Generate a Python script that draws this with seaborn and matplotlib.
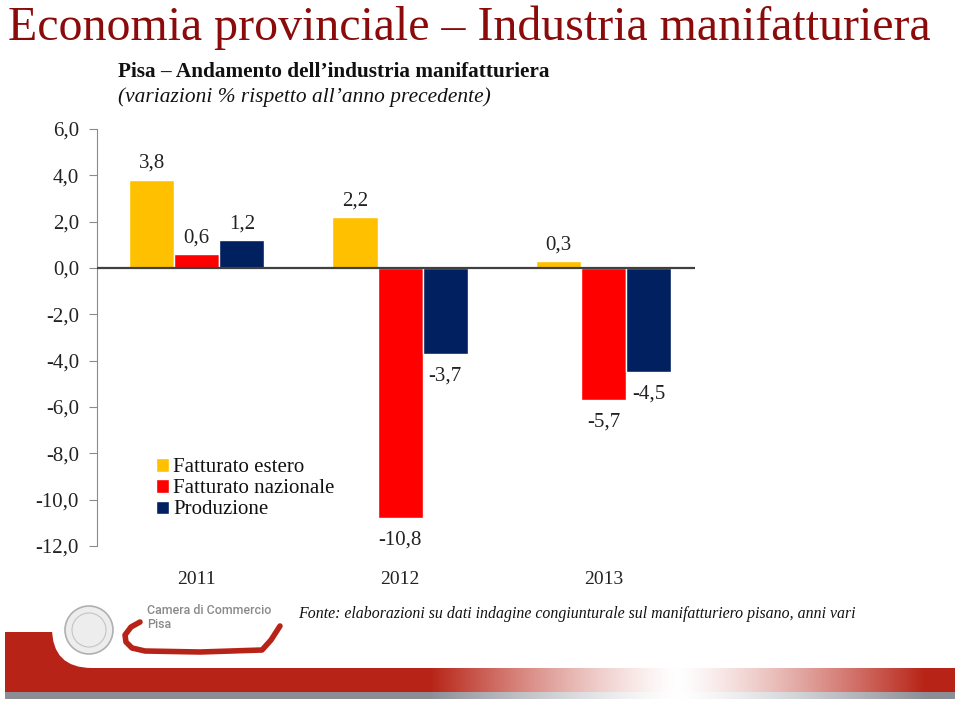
import matplotlib
matplotlib.use("Agg")
import matplotlib.pyplot as plt
import numpy as np
import pandas as pd
import seaborn as sns
from matplotlib.patches import Rectangle, FancyBboxPatch, Circle

# data
years = ["2011", "2012", "2013"]
series = ["Fatturato estero", "Fatturato nazionale", "Produzione"]
fatturato_estero = [3.8, 2.2, 0.3]
fatturato_nazionale = [0.6, -10.8, -5.7]
produzione = [1.2, -3.7, -4.5]
colors = ["#FFC000", "#FF0000", "#002060"]
yticks = [6, 4, 2, 0, -2, -4, -6, -8, -10, -12]

df = pd.DataFrame({
    "anno": years * 3,
    "serie": [s for s in series for _ in years],
    "valore": fatturato_estero + fatturato_nazionale + produzione,
})

sns.set_style("white")
plt.rcParams["font.family"] = ["Liberation Serif", "DejaVu Serif"]

W, H = 960, 701
fig = plt.figure(figsize=(W / 100, H / 100), dpi=100)

# decoration layer in pixel coords
deco = fig.add_axes([0, 0, 1, 1], zorder=0)
deco.axis("off")

# bottom band with a white fade
xs = np.linspace(0, 1, 600)
fade = np.clip(np.abs(xs * W - 680) / 250, 0, 1) ** 1.3
red = np.array([0.72, 0.14, 0.09])
gray = np.array([0.55, 0.56, 0.59])
band = 1 - (1 - red)[None, :] * fade[:, None]
strip = 1 - (1 - gray)[None, :] * fade[:, None]
deco.add_patch(Rectangle((5, 632), 140, 60, color="#B82318", lw=0))
deco.add_patch(FancyBboxPatch((92, 600), 960, 28, boxstyle="round,pad=40",
                              color="white", lw=0))
deco.imshow(band[None, :, :], extent=(5, 955, 692, 668), aspect="auto", zorder=3)
deco.imshow(strip[None, :, :], extent=(5, 955, 699, 692), aspect="auto", zorder=3)
deco.set_xlim(0, W)
deco.set_ylim(H, 0)

# logo
deco.add_patch(Circle((89, 630), 24, facecolor="#ededed", edgecolor="#b0b0b0", lw=1.2, zorder=4))
deco.add_patch(Circle((89, 630), 17, facecolor="none", edgecolor="#c4c4c4", lw=0.8, zorder=4))
swx = [140, 131, 125, 126, 132, 145, 200, 262, 271, 280]
swy = [622, 627, 635, 642, 648, 651, 652, 650, 640, 626]
deco.plot(swx, swy, color="#B82318", lw=4, solid_capstyle="round", solid_joinstyle="round", zorder=4)
deco.text(147, 611, "Camera di Commercio", fontsize=9, color="#8a8a8a", fontweight="medium",
          family=["Roboto", "DejaVu Sans"], va="center", ha="left")
deco.text(147, 624, "Pisa", fontsize=9, color="#8a8a8a", fontweight="medium",
          family=["Roboto", "DejaVu Sans"], va="center", ha="left")

# titles
deco.text(8, 28, "Economia provinciale \u2013 Industria manifatturiera", fontsize=34.5,
          color="#8B0A0A", va="center", ha="left")
deco.text(118, 72, "Pisa \u2013 Andamento dell\u2019industria manifatturiera", fontsize=15.3,
          fontweight="bold", color="#111111", va="center", ha="left")
deco.text(118, 97, "(variazioni % rispetto all\u2019anno precedente)", fontsize=15.4,
          style="italic", color="#111111", va="center", ha="left")
deco.text(298, 614, "Fonte: elaborazioni su dati indagine congiunturale sul manifatturiero pisano, anni vari",
          fontsize=11.4, style="italic", color="#111111", va="center", ha="left")

# main chart
ax = fig.add_axes([97 / W, 1 - 546 / H, 598 / W, (546 - 129) / H], zorder=2)
ax.patch.set_alpha(0)
sns.barplot(data=df, x="anno", y="valore", hue="serie", order=years, hue_order=series,
            palette=colors, width=0.665, saturation=1, ax=ax, legend=True)

def fmt(v):
    return f"{v:.1f}".replace(".", ",")

for cont in ax.containers:
    for bar in cont:
        v = bar.get_height()
        ax.annotate(fmt(v), (bar.get_x() + bar.get_width() / 2, v),
                    xytext=(0, 5 if v >= 0 else -9), textcoords="offset points",
                    ha="center", va="bottom" if v >= 0 else "top",
                    fontsize=15, color="#222222")

ax.set_xlim(-0.49, 2.45)
ax.set_ylim(-12, 6)
ax.set_yticks(yticks)
ax.set_yticklabels([fmt(v) for v in yticks])
ax.axhline(0, color="#404040", lw=1.6, zorder=5)
for s in ["top", "right", "bottom"]:
    ax.spines[s].set_visible(False)
ax.spines["left"].set_color("#8c8c8c")
ax.tick_params(axis="y", length=6, color="#8c8c8c", labelsize=15, labelcolor="#222222", pad=7, left=True)
ax.tick_params(axis="x", length=0, labelsize=14, labelcolor="#222222", pad=18)
ax.set_xlabel("")
ax.set_ylabel("")

leg = ax.legend(loc="upper left", bbox_to_anchor=(51 / 598, (546 - 450) / (546 - 129)),
                frameon=False, fontsize=15, handlelength=0.6, handleheight=0.6,
                handletextpad=0.22, labelspacing=0.1, borderaxespad=0)
for txt in leg.get_texts():
    txt.set_color("#111111")

fig.savefig("out.png", dpi=100)
